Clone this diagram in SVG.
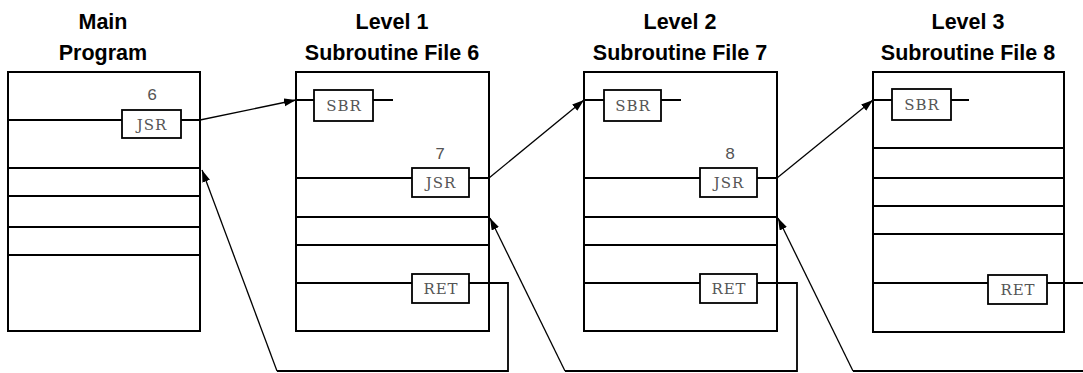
<svg xmlns="http://www.w3.org/2000/svg" width="1083" height="373" viewBox="0 0 1083 373">
<style>
.title{font-family:"Liberation Sans",Arial,sans-serif;font-weight:bold;font-size:21.5px;text-anchor:middle;fill:#000}
.frame{fill:#fff;stroke:#000;stroke-width:2}
.ln{stroke:#000;stroke-width:1.8;fill:none}
.ins{fill:#fff;stroke:#000;stroke-width:1.8}
.mono{font-family:"DejaVu Serif","Liberation Serif",serif;font-size:15px;letter-spacing:1px;fill:#555;text-anchor:middle}
.num{font-family:"Liberation Mono","Courier New",monospace;font-size:17px;fill:#555;text-anchor:middle}
.conn{stroke:#000;stroke-width:1.3;fill:none}
.ret{stroke-width:1.8}
</style>
<defs>
<marker id="ah" markerUnits="userSpaceOnUse" markerWidth="14" markerHeight="10" refX="12" refY="4" orient="auto">
<path d="M0,0 L12,4 L0,8 z" fill="#000"/>
</marker>
</defs>
<rect width="1083" height="373" fill="#fff"/>

<g id="main">
<text class="title" x="103" y="29">Main</text>
<text class="title" x="103" y="60">Program</text>
<rect class="frame" x="8" y="72" width="192" height="259"/>
<path class="ln" d="M8 120H122M181 120H200M8 168H200M8 196H200M8 227H200M8 255H200"/>
<rect class="ins" x="122" y="110" width="59" height="28"/>
<text class="mono" x="152" y="130">JSR</text>
<text class="num" x="152" y="100">6</text>
</g>

<g id="level1">
<text class="title" x="392" y="29">Level 1</text>
<text class="title" x="392" y="60">Subroutine File 6</text>
<rect class="frame" x="296" y="72" width="193" height="259"/>
<path class="ln" d="M296 100H314M373 100H393M296 178H412M469 178H489M296 217H489M296 245H489M296 283H412"/>
<rect class="ins" x="314" y="90" width="59" height="31"/>
<text class="mono" x="344" y="111">SBR</text>
<text class="num" x="440" y="159">7</text>
<rect class="ins" x="412" y="168" width="57" height="29"/>
<text class="mono" x="441" y="188">JSR</text>
<rect class="ins" x="412" y="274" width="57" height="29"/>
<text class="mono" x="441" y="294">RET</text>
</g>

<g id="level2">
<text class="title" x="680" y="29">Level 2</text>
<text class="title" x="680" y="60">Subroutine File 7</text>
<rect class="frame" x="584" y="72" width="193" height="259"/>
<path class="ln" d="M584 100H604M661 100H681M584 178H700M757 178H777M584 217H777M584 245H777M584 283H700"/>
<rect class="ins" x="604" y="90" width="57" height="31"/>
<text class="mono" x="633" y="111">SBR</text>
<text class="num" x="730" y="159">8</text>
<rect class="ins" x="700" y="168" width="57" height="29"/>
<text class="mono" x="729" y="188">JSR</text>
<rect class="ins" x="700" y="274" width="57" height="29"/>
<text class="mono" x="729" y="294">RET</text>
</g>

<g id="level3">
<text class="title" x="968" y="29">Level 3</text>
<text class="title" x="968" y="60">Subroutine File 8</text>
<rect class="frame" x="873" y="72" width="191" height="260"/>
<path class="ln" d="M873 100H892M951 100H969M873 148H1064M873 178H1064M873 206H1064M873 234H1064M873 283H988"/>
<rect class="ins" x="892" y="89" width="59" height="31"/>
<text class="mono" x="922" y="110">SBR</text>
<rect class="ins" x="988" y="275" width="59" height="29"/>
<text class="mono" x="1018" y="295">RET</text>
</g>

<g id="connectors">
<path class="conn" d="M200 120L296 100" marker-end="url(#ah)"/>
<path class="conn" d="M489 178L584 100" marker-end="url(#ah)"/>
<path class="conn" d="M777 178L873 100" marker-end="url(#ah)"/>
<path class="conn ret" d="M469 283H508V371H277" />
<path class="conn" d="M277 371L202 170" marker-end="url(#ah)"/>
<path class="conn ret" d="M757 283H797V371H565"/>
<path class="conn" d="M565 371L490 218" marker-end="url(#ah)"/>
<path class="conn ret" d="M1047 283H1092V371H853"/>
<path class="conn" d="M853 371L778 218" marker-end="url(#ah)"/>
</g>
</svg>
